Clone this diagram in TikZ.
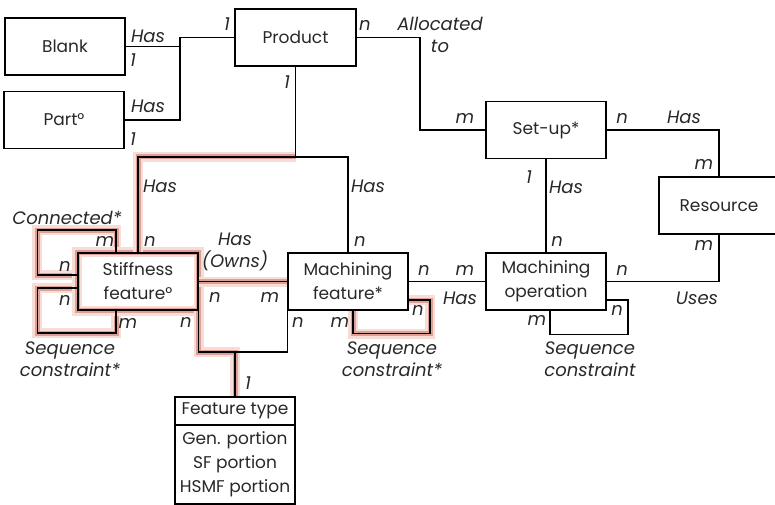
\documentclass[tikz,border=0pt]{standalone}
\usepackage{fontspec}
\setmainfont{Poppins}
\usetikzlibrary{backgrounds}

\definecolor{glowcore}{RGB}{222,160,150}
\definecolor{glowhalo}{RGB}{246,222,214}
\definecolor{ink}{RGB}{40,40,40}
\tikzstyle{entity} = [draw, line width=1.2pt, minimum width=120pt, minimum height=57pt, align=center, inner sep=2pt, font=\fontsize{17}{24}\selectfont]
\tikzstyle{link} = [line width=1.2pt]
\tikzstyle{lbl} = [inner sep=0pt, align=center, font=\fontsize{18}{22}\selectfont\itshape]
\tikzstyle{glow} = [line width=5pt, glowcore, preaction={draw, line width=10pt, glowhalo}]

\begin{document}
\begin{tikzpicture}[x=1pt, y=-1pt, node distance=73.5pt, text=ink]
\useasboundingbox (0,0) rectangle (775,505);

% entities
\node (blank) [entity] at (65,46.5) {Blank};
\node (part) [entity, below of=blank, xshift=-1pt] {Part°};
\node (product) [entity, minimum width=121pt] at (295.5,37.5) {Product};
\node (setup) [entity] at (546,130) {Set-up*};
\node (resource) [entity] at (719,205.5) {Resource};
\node (sf) [entity] at (138,281.5) {Stiffness\\feature°};
\node (mf) [entity] at (348,281.5) {Machining\\feature*};
\node (mo) [entity] at (546,281.5) {Machining\\operation};
\node (ft) [entity, minimum height=28pt] at (235,411) {Feature type};
\node (ftbody) [entity, minimum height=79pt, below of=ft, node distance=53.5pt] {Gen. portion\\SF portion\\HSMF portion};

% junctions
\coordinate (tie) at (180,37.5);
\coordinate (alloc) at (420,130);
\coordinate (hasbar) at (295.5,157);
\coordinate (ftbar) at (235,352);

% highlighted relations
\begin{scope}[on background layer]
\draw [glow] ([yshift=6.5pt]sf.west) -| ++(-40,-45) -| ([xshift=-22pt]sf.north);
\draw [glow] ([yshift=-6.5pt]sf.west) -| ++(-40,45) -| ([xshift=-22pt]sf.south);
\draw [glow] (sf.south west) rectangle (sf.north east);
\draw [glow] (sf.north) |- (hasbar);
\draw [glow] (sf.east) -- (mf.west);
\draw [glow] (sf.south east) |- (ftbar) -- (ft.north);
\draw [glow] ([xshift=5pt]mf.south) |- ++(77,23) |- ([yshift=-18.5pt]mf.east);
\end{scope}

% relations
\draw [link] (blank.east) -| (tie) -- (product.west);
\draw [link] (part.east) -| (tie);
\draw [link] (product.east) -| (alloc) -- (setup.west);
\draw [link] (product.south) -- (hasbar);
\draw [link] (sf.north) |- (hasbar) -| (mf.north);
\draw [link] (setup.south) -- (mo.north);
\draw [link] (setup.east) -| (resource.north);
\draw [link] (resource.south) |- (mo.east);
\draw [link] (sf.east) -- (mf.west);
\draw [link] (mf.east) -- (mo.west);
\draw [link] (sf.south east) |- (ftbar) -| (mf.south west);
\draw [link] (ft.north) -- (ftbar);
\draw [link] ([yshift=6.5pt]sf.west) -| ++(-40,-45) -| ([xshift=-22pt]sf.north);
\draw [link] ([yshift=-6.5pt]sf.west) -| ++(-40,45) -| ([xshift=-22pt]sf.south);
\draw [link] ([xshift=5pt]mf.south) |- ++(77,23) |- ([yshift=-18.5pt]mf.east);
\draw [link] ([xshift=4pt]mo.south) |- ++(78,24) |- ([yshift=-18.5pt]mo.east);

% labels
\node (l1) [lbl] at (148,36) {Has};
\node (l2) [lbl] at (133,60) {1};
\node (l3) [lbl] at (148,106) {Has};
\node (l4) [lbl] at (133,139) {1};
\node (l5) [lbl] at (227,24) {1};
\node (l6) [lbl] at (365,25) {n};
\node (l7) [lbl] at (440,35) {Allocated\\to};
\node (l8) [lbl] at (465,118) {m};
\node (l9) [lbl] at (287,82) {1};
\node (l10) [lbl] at (160,186) {Has};
\node (l11) [lbl] at (150,241) {n};
\node (l12) [lbl] at (368,186) {Has};
\node (l13) [lbl] at (360,241) {n};
\node (l14) [lbl] at (529,177) {1};
\node (l15) [lbl] at (566,187) {Has};
\node (l16) [lbl] at (557,241) {n};
\node (l17) [lbl] at (622,118) {n};
\node (l18) [lbl] at (684,117) {Has};
\node (l19) [lbl] at (704,164) {m};
\node (l20) [lbl] at (704,245) {m};
\node (l21) [lbl] at (622,270) {n};
\node (l22) [lbl] at (697,298) {Uses};
\node (l23) [lbl] at (424,270) {n};
\node (l24) [lbl] at (465,270) {m};
\node (l25) [lbl] at (460,298) {Has};
\node (l26) [lbl] at (340,322) {m};
\node (l27) [lbl] at (418,310) {n};
\node (l28) [lbl] at (392,359) {Sequence\\constraint*};
\node (l29) [lbl] at (537,320) {m};
\node (l30) [lbl] at (617,310) {n};
\node (l31) [lbl] at (590,359) {Sequence\\constraint};
\node (l32) [lbl] at (235,252) {Has\\(Owns)};
\node (l33) [lbl] at (215,297) {n};
\node (l34) [lbl] at (270,297) {m};
\node (l35) [lbl] at (186,322) {n};
\node (l36) [lbl] at (298,322) {n};
\node (l37) [lbl] at (248,383) {1};
\node (l38) [lbl] at (105,241) {m};
\node (l39) [lbl] at (65,266) {n};
\node (l40) [lbl] at (67,218) {Connected*};
\node (l41) [lbl] at (65,300) {n};
\node (l42) [lbl] at (128,323) {m};
\node (l43) [lbl] at (70,359) {Sequence\\constraint*};

\end{tikzpicture}
\end{document}
